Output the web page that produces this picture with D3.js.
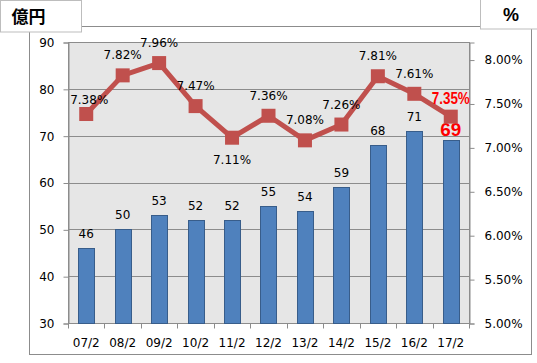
<!DOCTYPE html>
<html lang="ja">
<head>
<meta charset="utf-8">
<title>億円 / %</title>
<script src="https://cdn.jsdelivr.net/npm/d3@7"></script>
<style>
  body { margin: 0; background: #fff; }
  svg { display: block; font-family: 'DejaVu Sans', Verdana, sans-serif; }
</style>
</head>
<body>
<div id="chart"></div>
<script>

/* Data */
/* ==== */

var categories = ['07/2', '08/2', '09/2', '10/2', '11/2', '12/2', '13/2', '14/2', '15/2', '16/2', '17/2'];
var amounts    = [46, 50, 53, 52, 52, 55, 54, 59, 68, 71, 69];          // 億円 (bars)
var rates      = [7.38, 7.82, 7.96, 7.47, 7.11, 7.36, 7.08, 7.26, 7.81, 7.61, 7.35]; // % (line)
var leftTicks  = [30, 40, 50, 60, 70, 80, 90];
var rightTicks = [5.0, 5.5, 6.0, 6.5, 7.0, 7.5, 8.0];
var highlight  = '17/2';         // latest value, drawn in red

// rate label baseline offsets that differ from the default (above the point)
var rateLabelNudge = { '07/2': { dx: 3, dy: -10 }, '11/2': { dx: 0, dy: 26 } };


/* Setup */
/* ===== */

var width = 537,
    height = 363,
    plot = { left: 68, right: 469, top: 42, bottom: 323 };

var svg = d3.select('#chart').append('svg')
    .attr('width', width)
    .attr('height', height);

var x = d3.scaleBand()
    .domain(categories)
    .range([plot.left, plot.right])
    .paddingInner(0.56)
    .paddingOuter(0.28);

var yLeft = d3.scaleLinear()
    .domain([30, 90])
    .range([plot.bottom, plot.top]);

var yRight = d3.scaleLinear()
    .domain([5, 8.2])
    .range([plot.bottom, plot.top]);

var cx = function(d) { return x(d) + x.bandwidth() / 2; };

var redFont = "'Liberation Sans', Arial, sans-serif";


/* Frame and unit boxes */
/* ==================== */

svg.append('rect')
    .attr('x', 29.5).attr('y', 26.5)
    .attr('width', 502).attr('height', 328)
    .attr('fill', '#fff').attr('stroke', '#8c8c8c');

svg.append('rect')
    .attr('x', 0.5).attr('y', 0.5)
    .attr('width', 81).attr('height', 31.5)
    .attr('fill', '#fff').attr('stroke', '#bdbdbd');

svg.append('text')
    .attr('x', 28.5).attr('y', 22.5)
    .attr('text-anchor', 'middle')
    .attr('font-family', "'Noto Sans CJK JP', sans-serif")
    .attr('font-weight', 'bold')
    .attr('font-size', 17)
    .text('億円');

svg.append('rect')
    .attr('x', 480.5).attr('y', -1)
    .attr('width', 60).attr('height', 30)
    .attr('fill', '#fff').attr('stroke', '#bdbdbd');

svg.append('text')
    .attr('x', 511).attr('y', 21)
    .attr('text-anchor', 'middle')
    .attr('font-family', redFont)
    .attr('font-weight', 'bold')
    .attr('font-size', 18)
    .text('%');


/* Plot area */
/* ========= */

svg.append('rect')
    .attr('x', plot.left).attr('y', plot.top)
    .attr('width', plot.right - plot.left).attr('height', plot.bottom - plot.top)
    .attr('fill', '#e6e6e6');

// Gridlines
svg.append('g')
  .selectAll('line')
  .data(leftTicks)
  .join('line')
    .attr('x1', plot.left).attr('x2', plot.right)
    .attr('y1', function(d) { return Math.round(yLeft(d)) + 0.5; })
    .attr('y2', function(d) { return Math.round(yLeft(d)) + 0.5; })
    .attr('stroke', '#8c8c8c');

svg.append('rect')
    .attr('x', plot.left + 0.5).attr('y', plot.top + 0.5)
    .attr('width', plot.right - plot.left).attr('height', plot.bottom - plot.top)
    .attr('fill', 'none').attr('stroke', '#8c8c8c');


/* Axes */
/* ==== */

function styleAxis(g) {
  g.selectAll('path, line').attr('stroke', '#8c8c8c');
  g.selectAll('text').attr('fill', '#000').attr('font-size', 12)
    .attr('font-family', "'DejaVu Sans', Verdana, sans-serif");
}

svg.append('g')
    .attr('transform', 'translate(' + (plot.left + 0.5) + ',0.5)')
    .call(d3.axisLeft(yLeft).tickValues(leftTicks).tickSize(5).tickPadding(9))
    .call(styleAxis);

svg.append('g')
    .attr('transform', 'translate(' + (plot.right + 0.5) + ',0.5)')
    .call(d3.axisRight(yRight).tickValues(rightTicks).tickSize(5).tickPadding(10)
      .tickFormat(function(d) { return d3.format('.2f')(d) + '%'; }))
    .call(styleAxis);

// x axis: ticks between categories, labels centred
var xAxis = svg.append('g')
    .attr('transform', 'translate(0,' + (plot.bottom + 0.5) + ')');

xAxis.selectAll('line')
  .data(d3.range(categories.length + 1))
  .join('line')
    .attr('x1', function(i) { return Math.round(plot.left + i * x.step()) + 0.5; })
    .attr('x2', function(i) { return Math.round(plot.left + i * x.step()) + 0.5; })
    .attr('y1', 0).attr('y2', 5)
    .attr('stroke', '#8c8c8c');

xAxis.selectAll('text')
  .data(categories)
  .join('text')
    .attr('x', cx)
    .attr('y', 23)
    .attr('text-anchor', 'middle')
    .attr('font-size', 12)
    .text(function(d) { return d; });


/* Bars */
/* ==== */

svg.append('g')
  .selectAll('rect')
  .data(categories)
  .join('rect')
    .attr('x', function(d) { return Math.round(x(d)) + 0.5; })
    .attr('y', function(d, i) { return Math.round(yLeft(amounts[i])) + 0.5; })
    .attr('width', Math.round(x.bandwidth()))
    .attr('height', function(d, i) { return plot.bottom - Math.round(yLeft(amounts[i])); })
    .attr('fill', '#4f81bd')
    .attr('stroke', '#385d8a');

var barLabels = svg.append('g')
  .selectAll('text')
  .data(categories)
  .join('text')
    .attr('x', cx)
    .attr('y', function(d, i) { return yLeft(amounts[i]) - (d === highlight ? 4 : 10); })
    .attr('text-anchor', 'middle')
    .attr('font-size', 12)
    .attr('fill', '#000')
    .text(function(d, i) { return amounts[i]; });

barLabels.filter(function(d) { return d === highlight; })
    .attr('font-family', redFont)
    .attr('font-size', 19)
    .attr('font-weight', 'bold')
    .attr('fill', '#ff0000')
    .attr('textLength', 21)
    .attr('lengthAdjust', 'spacingAndGlyphs');


/* Line */
/* ==== */

var line = d3.line()
    .x(function(d) { return cx(d); })
    .y(function(d, i) { return yRight(rates[i]); });

svg.append('path')
    .datum(categories)
    .attr('d', line)
    .attr('fill', 'none')
    .attr('stroke', '#c0504d')
    .attr('stroke-width', 5)
    .attr('stroke-linejoin', 'round');

svg.append('g')
  .selectAll('rect')
  .data(categories)
  .join('rect')
    .attr('x', function(d) { return cx(d) - 7; })
    .attr('y', function(d, i) { return yRight(rates[i]) - 7; })
    .attr('width', 14).attr('height', 14)
    .attr('fill', '#c0504d');

var rateLabels = svg.append('g')
  .selectAll('text')
  .data(categories)
  .join('text')
    .attr('x', function(d) { return cx(d) + (rateLabelNudge[d] ? rateLabelNudge[d].dx : 0); })
    .attr('y', function(d, i) {
      return yRight(rates[i]) + (rateLabelNudge[d] ? rateLabelNudge[d].dy : -16);
    })
    .attr('text-anchor', 'middle')
    .attr('font-size', 12)
    .attr('fill', '#000')
    .text(function(d, i) { return d3.format('.2f')(rates[i]) + '%'; });

rateLabels.filter(function(d) { return d === highlight; })
    .attr('y', function(d) { return yRight(rates[categories.indexOf(d)]) - 13; })
    .attr('font-family', redFont)
    .attr('font-size', 17)
    .attr('font-weight', 'bold')
    .attr('fill', '#ff0000')
    .attr('textLength', 38)
    .attr('lengthAdjust', 'spacingAndGlyphs');

</script>
</body>
</html>
